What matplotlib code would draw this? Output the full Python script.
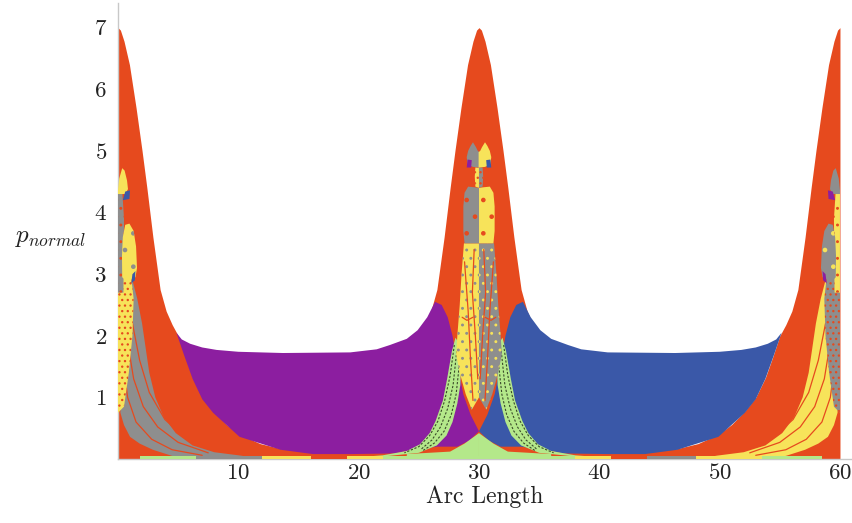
import numpy as np
import matplotlib
matplotlib.use('Agg')
import matplotlib.pyplot as plt

plt.rcParams['font.family'] = 'cmr10'
plt.rcParams['mathtext.fontset'] = 'cm'
plt.rcParams['axes.formatter.use_mathtext'] = True
plt.rcParams['hatch.linewidth'] = 0.9

RED = '#E64A1E'
PURPLE = '#8C1EA0'
BLUE = '#3A58A8'
GREEN = '#B4E88A'
GRAY = '#8E8E8E'
YELLOW = '#F7E35A'
DARK = '#3A4A2A'
# the picture is mirrored about s=30 with these colours swapped
SWAP = {GRAY: YELLOW, YELLOW: GRAY, PURPLE: BLUE, BLUE: PURPLE}

# ---- data ----
xtick_vals = [10, 20, 30, 40, 50, 60]
ytick_vals = [1, 2, 3, 4, 5, 6, 7]

# outer red envelope: distance from a peak vs height
peak_centers = [0, 30, 60]
peak_d = [0, 0.2, 0.5, 0.95, 1.5, 2.0, 2.4, 2.9, 3.5, 4.0, 4.5, 5.0, 5.6, 6.2, 7.0, 7.9, 9.0, 10.1, 11.8, 13.5, 16.2, 20, 30]
peak_h = [7.0, 6.96, 6.78, 6.4, 5.7, 5.0, 4.4, 3.6, 2.75, 2.4, 2.18, 2.0, 1.65, 1.32, 1.0, 0.78, 0.56, 0.4, 0.25, 0.17, 0.11, 0.1, 0.1]

# purple basin (blue is its mirror)
purple_x = [4.85, 5.3, 6.0, 7.0, 8.2, 10.0, 13.7, 19.3, 21.5, 22.6, 24.0, 24.9, 25.7, 26.35, 26.9, 27.4,
            27.8, 28.2, 28.7, 29.3, 30.0, 29.2, 28.2, 26.5, 24.5, 23.0, 19.3, 16.2, 13.5, 10.1, 7.9, 7.0, 6.2, 5.5]
purple_y = [2.05, 1.94, 1.87, 1.81, 1.77, 1.74, 1.72, 1.73, 1.78, 1.85, 1.95, 2.09, 2.3, 2.55, 2.5, 2.3,
            2.0, 1.55, 1.05, 0.72, 0.45, 0.3, 0.2, 0.2, 0.15, 0.09, 0.08, 0.08, 0.15, 0.36, 0.75, 0.97, 1.3, 1.68]

# green band on the flank of the middle peak
band_x = [28.05, 27.75, 27.35, 27.0, 26.4, 25.9, 25.1, 24.0, 22.0, 20.0, 20.0, 25.0, 26.5, 27.3, 27.8, 28.2, 28.45, 28.5, 28.4]
band_y = [1.97, 1.75, 1.3, 0.95, 0.62, 0.42, 0.24, 0.13, 0.06, 0.03, 0.0, 0.1, 0.22, 0.38, 0.6, 0.9, 1.2, 1.5, 1.85]
band_lines = [
    ([27.95, 27.6, 27.15, 26.6, 25.9, 25.0, 23.8], [1.85, 1.35, 0.95, 0.62, 0.38, 0.2, 0.1]),
    ([28.15, 27.85, 27.4, 26.8, 26.1, 25.2], [1.75, 1.2, 0.82, 0.52, 0.31, 0.16]),
    ([28.35, 28.1, 27.7, 27.1, 26.3, 25.3], [1.5, 1.05, 0.72, 0.45, 0.26, 0.13]),
]
base_x = [24.0, 24.0, 27.6, 28.8, 30.0, 30.0]
base_y = [0.0, 0.08, 0.12, 0.25, 0.42, 0.0]

# middle peak, left half
core_x = [30.0, 28.75, 28.55, 28.4, 28.2, 28.1, 28.4, 28.9, 29.4, 30.0]
core_y = [3.5, 3.5, 3.0, 2.5, 2.0, 1.7, 1.4, 1.05, 0.8, 1.0]
core_lines = [
    ([28.8, 29.1, 29.3, 29.5], [3.2, 2.4, 1.6, 0.95]),
    ([29.6, 29.45, 29.7, 29.9], [3.4, 2.7, 2.0, 1.3]),
    ([28.6, 29.0, 29.5], [2.3, 2.25, 2.3]),
]
blob_x = [30.0, 28.8, 28.7, 28.7, 28.8, 29.1, 29.6, 30.0]
blob_y = [3.5, 3.5, 3.7, 4.1, 4.32, 4.42, 4.41, 4.4]
neck_x = [30.0, 29.7, 29.65, 29.7, 30.0]
neck_y = [4.4, 4.42, 4.58, 4.73, 4.73]
flame_x = [30.03, 29.5, 29.05, 28.98, 29.1, 29.3, 29.5, 29.75, 29.9, 30.03]
flame_y = [4.73, 4.74, 4.78, 4.9, 5.0, 5.08, 5.14, 5.06, 5.0, 4.98]
flame_patch_x = [28.98, 29.35, 29.4, 29.05]
flame_patch_y = [4.73, 4.73, 4.85, 4.86]

# left peak structures
fan_x = [1.2, 1.6, 2.0, 2.3, 2.6, 3.1, 3.8, 4.8, 6.2, 8.0, 10.4, 6.2, 4.5, 2.9, 1.8, 1.0, 0.5, 0.2, 0.2, 0.6]
fan_y = [2.9, 2.6, 2.2, 1.8, 1.4, 1.0, 0.68, 0.42, 0.22, 0.11, 0.05, 0.02, 0.05, 0.15, 0.25, 0.36, 0.55, 0.75, 1.5, 2.6]
fan_lines = [
    ([0.4, 0.8, 1.5, 2.8, 4.5, 7.0], [1.6, 1.0, 0.6, 0.32, 0.15, 0.06]),
    ([0.8, 1.3, 2.1, 3.3, 5.0, 7.5], [1.9, 1.3, 0.85, 0.52, 0.27, 0.1]),
    ([1.2, 1.8, 2.6, 3.9, 5.7, 8.5], [2.2, 1.6, 1.08, 0.64, 0.33, 0.13]),
]
col_x = [0.0, 0.5, 0.9, 1.2, 1.3, 1.1, 0.6, 0.0]
col_y = [0.75, 0.85, 1.4, 2.0, 2.6, 2.95, 2.95, 2.95]
strip_x = [0.0, 0.45, 0.5, 0.35, 0.0]
strip_y = [2.7, 2.7, 3.9, 4.36, 4.36]
big_blob_x = [0.35, 0.33, 0.4, 0.6, 0.95, 1.3, 1.5, 1.58, 1.45, 1.0, 0.6]
big_blob_y = [2.95, 3.3, 3.6, 3.8, 3.82, 3.7, 3.45, 3.1, 2.95, 2.9, 2.9]
top_blob_x = [0.0, 0.1, 0.35, 0.55, 0.75, 0.83, 0.6, 0.3, 0.0]
top_blob_y = [4.36, 4.55, 4.72, 4.68, 4.52, 4.38, 4.3, 4.3, 4.3]
patch1_x = [0.4, 0.95, 1.0, 0.6]
patch1_y = [4.2, 4.22, 4.36, 4.34]
patch2_x = [1.1, 1.4, 1.45, 1.2]
patch2_y = [2.85, 2.9, 3.05, 3.0]

# thin coloured strip on the axis
bottom_edges = [1.8, 6.5, 12.0, 16.0, 19.0, 22.0, 38.0, 41.0, 44.0, 48.0, 53.5, 58.5]
bottom_colors = [GREEN, GRAY, YELLOW, RED, YELLOW, GREEN, YELLOW, RED, GRAY, YELLOW, GREEN]


def shape(ax, xs, ys, color, flip, z, hatch=None, hcolor=None):
    xs = np.asarray(xs, float)
    if flip:
        xs = 60 - xs
        color = SWAP.get(color, color)
        hcolor = SWAP.get(hcolor, hcolor)
    if hatch:
        ax.fill(xs, ys, facecolor=color, edgecolor=hcolor, hatch=hatch, lw=0, zorder=z)
    else:
        ax.fill(xs, ys, color=color, lw=0, zorder=z)


def line(ax, xs, ys, color, flip, z, lw=0.8, ls='-'):
    xs = np.asarray(xs, float)
    if flip:
        xs = 60 - xs
        color = SWAP.get(color, color)
    ax.plot(xs, ys, color=color, lw=lw, ls=ls, zorder=z, solid_capstyle='round')


fig = plt.figure(figsize=(8.53, 5.23), dpi=100)
ax = fig.add_axes([118 / 853, 64 / 523, 734 / 853, 456 / 523])

arc = np.linspace(0, 60, 1201)
env = np.max([np.interp(np.abs(arc - c), peak_d, peak_h) for c in peak_centers], axis=0)
ax.fill_between(arc, 0, env, color=RED, lw=0, zorder=1)

for flip in (False, True):
    shape(ax, purple_x, purple_y, PURPLE, flip, 2)
    shape(ax, base_x, base_y, GREEN, flip, 3)
    shape(ax, band_x, band_y, GREEN, flip, 3)
    for bx, by in band_lines:
        line(ax, bx, by, DARK, flip, 4, lw=0.8, ls=(0, (2, 1.5)))

    shape(ax, core_x, core_y, YELLOW, flip, 5, hatch='..', hcolor=GRAY)
    for cx, cy in core_lines:
        line(ax, cx, cy, RED, flip, 6, lw=0.9)
    shape(ax, blob_x, blob_y, GRAY, flip, 5, hatch='.', hcolor=RED)
    shape(ax, neck_x, neck_y, YELLOW, flip, 5, hatch='...', hcolor=RED)
    shape(ax, flame_x, flame_y, GRAY, flip, 5)
    shape(ax, flame_patch_x, flame_patch_y, PURPLE, flip, 6)

    shape(ax, fan_x, fan_y, GRAY, flip, 5)
    for fx, fy in fan_lines:
        line(ax, fx, fy, RED, flip, 6, lw=0.9)
    shape(ax, col_x, col_y, YELLOW, flip, 6, hatch='...', hcolor=RED)
    shape(ax, strip_x, strip_y, GRAY, flip, 6, hatch='..', hcolor=RED)
    shape(ax, big_blob_x, big_blob_y, YELLOW, flip, 6, hatch='.', hcolor=GRAY)
    shape(ax, top_blob_x, top_blob_y, YELLOW, flip, 6)
    shape(ax, patch1_x, patch1_y, BLUE, flip, 7)
    shape(ax, patch2_x, patch2_y, BLUE, flip, 7)

ax.broken_barh([(a, b - a) for a, b in zip(bottom_edges[:-1], bottom_edges[1:])],
               (0, 0.045), facecolors=bottom_colors, lw=0, zorder=8)

ax.set_xlim(0, 61)
ax.set_ylim(0, 7.4)
ax.set_xticks(xtick_vals)
ax.set_yticks(ytick_vals)
ax.tick_params(length=0, labelsize=16.5, colors='#222222')
ax.tick_params(axis='x', pad=3)
ax.tick_params(axis='y', pad=8)
for side in ('top', 'right'):
    ax.spines[side].set_visible(False)
for side in ('left', 'bottom'):
    ax.spines[side].set_color('#c8c8c8')
    ax.spines[side].set_linewidth(1.0)
ax.set_xlabel('Arc Length', fontsize=17, labelpad=2, color='#222222')
fig.text(15 / 853, 1 - 238 / 523, r'$p_{normal}$', fontsize=18, va='center', ha='left', color='#222222')

fig.savefig('out.png', dpi=100)
